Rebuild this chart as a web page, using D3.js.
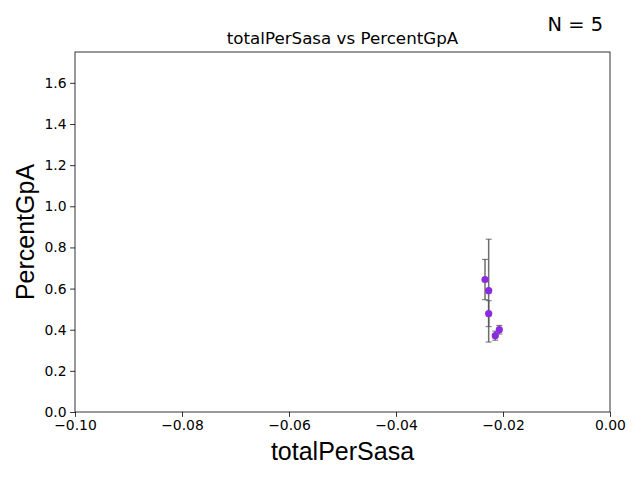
<!DOCTYPE html>
<html>
<head>
<meta charset="utf-8">
<script src="https://cdn.jsdelivr.net/npm/d3@7"></script>
<style>
  body { margin: 0; background: #fff; }
  svg { display: block; }
</style>
</head>
<body>
<svg width="640" height="480"></svg>
<script>
const width = 640, height = 480;
const margin = {top: 52, right: 30, bottom: 68, left: 75};
const plotWidth = width - margin.left - margin.right,
      plotHeight = height - margin.top - margin.bottom;

// values
const totalPerSasa = [-0.02336, -0.02268, -0.02268, -0.02144, -0.02069];
const percentGpA   = [0.644, 0.590, 0.478, 0.371, 0.400];
const percentErr   = [0.098, 0.250, 0.063, 0.022, 0.021];
const xTicks = [-0.10, -0.08, -0.06, -0.04, -0.02, 0.00];
const yTicks = [0.0, 0.2, 0.4, 0.6, 0.8, 1.0, 1.2, 1.4, 1.6];

const points = totalPerSasa.map((x, i) => ({x, y: percentGpA[i], err: percentErr[i]}));

const svg = d3.select("svg");
const g = svg.append("g")
    .attr("transform", `translate(${margin.left},${margin.top})`);

const x = d3.scaleLinear().domain([-0.10, 0.00]).range([0, plotWidth]);
const y = d3.scaleLinear().domain([0, 1.75]).range([plotHeight, 0]);

const minus = s => s.replace("-", "\u2212");

const xAxis = g.append("g")
    .attr("transform", `translate(0,${plotHeight})`)
    .call(d3.axisBottom(x).tickValues(xTicks).tickSize(4.9).tickPadding(3.5)
        .tickFormat(d => minus(d3.format(".2f")(d))));
const yAxis = g.append("g")
    .call(d3.axisLeft(y).tickValues(yTicks).tickSize(4.9).tickPadding(3.5)
        .tickFormat(d => d3.format(".1f")(d)));

[xAxis, yAxis].forEach(a => {
    a.select(".domain").remove();
    a.selectAll("line").attr("stroke", "#000").attr("stroke-width", 0.8);
    a.selectAll("text")
        .attr("fill", "#000")
        .style("font-family", "DejaVu Sans")
        .style("font-size", "13.9px");
});

// frame
g.append("rect")
    .attr("width", plotWidth)
    .attr("height", plotHeight)
    .attr("fill", "none")
    .attr("stroke", "#000")
    .attr("stroke-width", 0.8);

// error bars
const bars = g.append("g").attr("stroke", "#555").attr("stroke-opacity", 0.85).attr("stroke-width", 1.5);
bars.selectAll(".err")
    .data(points)
    .join("line")
    .attr("x1", d => x(d.x)).attr("x2", d => x(d.x))
    .attr("y1", d => y(d.y - d.err)).attr("y2", d => y(d.y + d.err));
bars.selectAll(".cap-top")
    .data(points)
    .join("line")
    .attr("x1", d => x(d.x) - 3).attr("x2", d => x(d.x) + 3)
    .attr("y1", d => y(d.y + d.err)).attr("y2", d => y(d.y + d.err))
    .attr("stroke-width", 1);
bars.selectAll(".cap-bot")
    .data(points)
    .join("line")
    .attr("x1", d => x(d.x) - 3).attr("x2", d => x(d.x) + 3)
    .attr("y1", d => y(d.y - d.err)).attr("y2", d => y(d.y - d.err))
    .attr("stroke-width", 1);

g.selectAll(".dot")
    .data(points)
    .join("circle")
    .attr("cx", d => x(d.x))
    .attr("cy", d => y(d.y))
    .attr("r", 3.6)
    .attr("fill", "#8a2be2");

// labels
svg.append("text")
    .attr("x", margin.left + plotWidth / 2)
    .attr("y", 44)
    .attr("text-anchor", "middle")
    .style("font-family", "DejaVu Sans")
    .style("font-size", "16.7px")
    .text("totalPerSasa vs PercentGpA");

svg.append("text")
    .attr("x", 603)
    .attr("y", 31)
    .attr("text-anchor", "end")
    .style("font-family", "DejaVu Sans")
    .style("font-size", "19.4px")
    .text("N = 5");

svg.append("text")
    .attr("x", margin.left + plotWidth / 2)
    .attr("y", 460)
    .attr("text-anchor", "middle")
    .style("font-family", "Liberation Sans")
    .style("font-size", "25px")
    .text("totalPerSasa");

svg.append("text")
    .attr("transform", `translate(34,${margin.top + plotHeight / 2}) rotate(-90)`)
    .attr("text-anchor", "middle")
    .style("font-family", "Liberation Sans")
    .style("font-size", "25px")
    .text("PercentGpA");
</script>
</body>
</html>
